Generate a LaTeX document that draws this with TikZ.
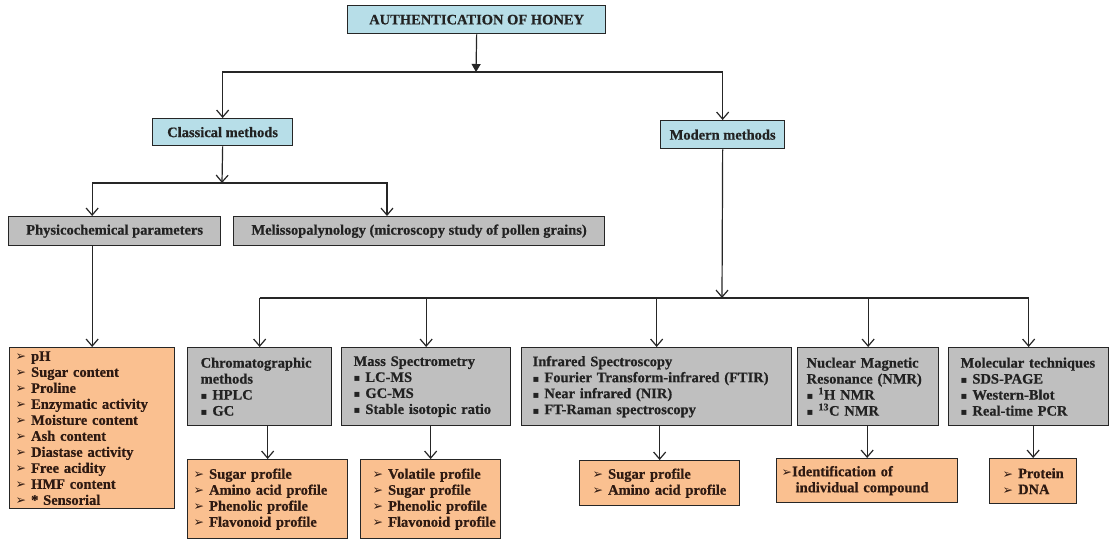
\documentclass[tikz,border=0pt]{standalone}
\usepackage{fontspec}
\setmainfont{Liberation Serif}[BoldFeatures={FakeBold=0.6}]
\newfontfamily\symf{DejaVu Sans}
\usetikzlibrary{arrows.meta,calc}
\definecolor{bluef}{HTML}{B7DEE8}
\definecolor{grayf}{HTML}{BFBFBF}
\definecolor{orgf}{HTML}{FAC090}
\definecolor{edge}{HTML}{262626}
\definecolor{txt}{HTML}{222222}
\definecolor{otxt}{HTML}{2E1A12}
\newcommand{\obli}[1]{\mbox{{\symf\fontsize{12.5}{10}\selectfont ➢}\hspace{5pt}#1}}
\newcommand{\sqli}[1]{\mbox{{\symf\fontsize{10}{10}\selectfont ▪}\hspace{5pt}#1}}
\begin{document}
\begin{tikzpicture}[x=1pt,y=-1pt,
  box/.style={draw=edge,line width=1.3pt,inner sep=0pt,anchor=north west,
    font=\fontsize{14.5}{16}\selectfont\bfseries,text=txt},
  bbox/.style={box,fill=bluef,align=center},
  gbox/.style={box,fill=grayf},
  obox/.style={box,fill=orgf,text=otxt},
  conn/.style={draw=edge,line width=1.2pt},
  arr/.style={conn,-{Straight Barb[length=7pt,width=12pt,line width=1.2pt]}},
]
\useasboundingbox[fill=white] (0,0) rectangle (1109,540);

% top level
\node[bbox,minimum width=258pt,minimum height=28pt] (auth) at (347,5) {AUTHENTICATION OF HONEY};
\node[bbox,minimum width=140pt,minimum height=27pt] (cl) at (152,118) {Classical methods};
\node[bbox,minimum width=124pt,minimum height=28pt] (mod) at (660,120) {Modern methods};

% classical children
\node[gbox,minimum width=212pt,minimum height=29pt,align=center] (phys) at (8,216) {Physicochemical parameters};
\node[gbox,minimum width=371pt,minimum height=29pt,align=center] (mel) at (233,216) {Melissopalynology (microscopy study of pollen grains)};

\node[obox,minimum width=165pt,minimum height=161pt,inner xsep=6pt,text width=153pt,align=left] (pH) at (9,347)
 {\obli{pH}\\\obli{Sugar content}\\\obli{Proline}\\\obli{Enzymatic activity}\\\obli{Moisture content}\\\obli{Ash content}\\\obli{Diastase activity}\\\obli{Free acidity}\\\obli{HMF content}\\\obli{* Sensorial}};

% modern children
\node[gbox,minimum width=144pt,minimum height=78pt,inner xsep=13pt,text width=118pt,align=left] (chrom) at (187,347)
 {\mbox{Chromatographic}\\methods\\\sqli{HPLC}\\\sqli{GC}};
\node[gbox,minimum width=169pt,minimum height=78pt,inner xsep=12pt,text width=145pt,align=left] (mass) at (341,347)
 {\mbox{Mass Spectrometry}\\\sqli{LC-MS}\\\sqli{GC-MS}\\\sqli{Stable isotopic ratio}};
\node[gbox,minimum width=270pt,minimum height=78pt,inner xsep=11pt,text width=248pt,align=left] (ir) at (521,347)
 {\mbox{Infrared Spectroscopy}\\\sqli{Fourier Transform-infrared (FTIR)}\\\sqli{Near infrared (NIR)}\\\sqli{FT-Raman spectroscopy}};
\node[gbox,minimum width=141pt,minimum height=78pt,inner xsep=9pt,text width=123pt,align=left] (nmr) at (797,347)
 {\mbox{Nuclear Magnetic}\\\mbox{Resonance (NMR)}\\\sqli{\textsuperscript{1}H NMR}\\\sqli{\textsuperscript{13}C NMR}};
\node[gbox,minimum width=160pt,minimum height=78pt,inner xsep=12pt,text width=136pt,align=left] (mol) at (948,347)
 {\mbox{Molecular techniques}\\\sqli{SDS-PAGE}\\\sqli{Western-Blot}\\\sqli{Real-time PCR}};

% result boxes
\node[obox,minimum width=160pt,minimum height=79pt,inner xsep=6pt,text width=148pt,align=left] (co) at (187,459)
 {\obli{Sugar profile}\\\obli{Amino acid profile}\\\obli{Phenolic profile}\\\obli{Flavonoid profile}};
\node[obox,minimum width=140pt,minimum height=79pt,inner xsep=12pt,text width=116pt,align=left] (mo) at (360,459)
 {\obli{Volatile profile}\\\obli{Sugar profile}\\\obli{Phenolic profile}\\\obli{Flavonoid profile}};
\node[obox,minimum width=160pt,minimum height=45pt,inner xsep=13pt,text width=134pt,align=left] (io) at (579,460)
 {\obli{Sugar profile}\\\obli{Amino acid profile}};
\node[obox,minimum width=181pt,minimum height=44pt,inner xsep=5pt,text width=171pt,align=left] (no) at (776,458)
 {\mbox{{\symf\fontsize{12.5}{10}\selectfont ➢}Identification of}\\\mbox{\hspace{14pt}individual compound}};
\node[obox,minimum width=87pt,minimum height=45pt,inner xsep=13pt,text width=61pt,align=left] (lo) at (989,458)
 {\obli{Protein}\\\obli{DNA}};

% connectors
\coordinate (j1) at (476,72);
\coordinate (j2) at (222,183);
\coordinate (md) at (387,216);
\coordinate (j3) at (722,298);

\draw[conn,-{Triangle[length=8pt,width=9pt]}] (auth.south) -- (j1);
\draw[arr] (j1) -| (cl.north);
\draw[arr] (j1) -| (mod.north);
\draw[arr] (cl.south) -- (j2);
\draw[arr] (j2) -| (pH.north |- phys.north);
\draw[arr] (j2) -| (md);
\draw[arr] (pH.north |- phys.south) -- (pH.north);

\draw[arr] (mod.south) -- (j3);
\draw[conn] (chrom.north |- j3) -- (mol.north |- j3);
\foreach \n in {chrom,mass,ir,nmr,mol}{
  \draw[arr] (\n.north |- j3) -- (\n.north);
}
\draw[arr] (co.north |- chrom.south) -- (co.north);
\draw[arr] (mo.north |- mass.south) -- (mo.north);
\draw[arr] (io.north |- ir.south) -- (io.north);
\draw[arr] (no.north |- nmr.south) -- (no.north);
\draw[arr] (lo.north |- mol.south) -- (lo.north);
\end{tikzpicture}
\end{document}
